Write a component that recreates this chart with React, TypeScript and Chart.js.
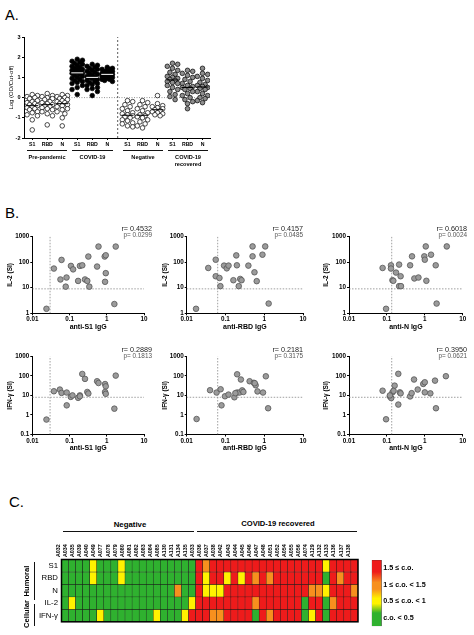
import React, { useEffect, useRef } from "react";
import { Chart, registerables } from "chart.js";

Chart.register(...registerables);

const FONT = "'Liberation Sans', Arial, Helvetica, sans-serif";
Chart.defaults.font.family = FONT;
Chart.defaults.color = "#000";

// ---------------- Panel A data ----------------
const aTickLabels = ["S1", "RBD", "N", "S1", "RBD", "N", "S1", "RBD", "N", "S1", "RBD", "N"];
const aYTicks = [-2, -1, 0, 1, 2, 3];
const aYTitle = "Log (OD/Cut-off)";

const prePandemicS1 = [0.15, 0.1, 0.05, 0, -0.05, -0.15, -0.2, -0.25, -0.3, -0.35, -0.4, -0.45, -0.5, -0.55, -0.6, -0.7, -0.75, -0.85, -0.9, -1.1, -1.6];
const prePandemicRBD = [0.2, 0.1, 0.05, 0, -0.05, -0.1, -0.2, -0.25, -0.3, -0.35, -0.4, -0.45, -0.5, -0.55, -0.6, -0.7, -0.8, -0.9, -1.35];
const prePandemicN = [0.15, 0.1, 0.05, 0, -0.05, -0.1, -0.15, -0.2, -0.25, -0.3, -0.35, -0.4, -0.45, -0.55, -0.6, -0.7, -0.8, -1.0, -1.4];
const covidS1 = [1.9, 1.85, 1.8, 1.75, 1.7, 1.65, 1.6, 1.55, 1.5, 1.45, 1.4, 1.4, 1.35, 1.3, 1.3, 1.25, 1.2, 1.2, 1.15, 1.1, 1.05, 1.0, 0.95, 0.9, 0.85, 0.8, 0.75, 0.7, 0.6, 0.5, 0.4, 0.15];
const covidRBD = [1.65, 1.6, 1.55, 1.5, 1.45, 1.4, 1.35, 1.3, 1.25, 1.2, 1.15, 1.1, 1.05, 1.0, 1.0, 0.95, 0.9, 0.85, 0.8, 0.75, 0.7, 0.65, 0.6, 0.5, 0.45, 0.4, 0.3, 0.1];
const covidN = [1.5, 1.45, 1.4, 1.4, 1.35, 1.3, 1.3, 1.25, 1.2, 1.2, 1.15, 1.15, 1.1, 1.1, 1.05, 1.0, 1.0, 0.95, 0.9, 0.9, 0.85, 0.8];
const negativeS1 = [-0.15, -0.2, -0.35, -0.45, -0.55, -0.65, -0.75, -0.8, -0.85, -0.9, -0.95, -1.0, -1.1, -1.15, -1.25, -1.3, -1.4, -1.45];
const negativeRBD = [-0.15, -0.25, -0.35, -0.45, -0.55, -0.65, -0.75, -0.85, -0.9, -0.95, -1.0, -1.1, -1.2, -1.3, -1.4, -1.5];
const negativeN = [0.1, -0.3, -0.4, -0.45, -0.5, -0.55, -0.6, -0.65, -0.7, -0.75, -0.8, -0.85, -0.9];
const recoveredS1 = [1.7, 1.65, 1.55, 1.45, 1.35, 1.25, 1.15, 1.05, 1.0, 0.95, 0.9, 0.85, 0.8, 0.75, 0.7, 0.6, 0.5, 0.4, 0.3, 0.15, 0.05, -0.1];
const recoveredRBD = [1.35, 1.3, 1.2, 1.1, 1.0, 0.9, 0.8, 0.7, 0.6, 0.55, 0.5, 0.45, 0.4, 0.3, 0.2, 0.1, 0, -0.1, -0.2, -0.3, -0.55];
const recoveredN = [1.45, 1.2, 1.15, 1.05, 0.95, 0.85, 0.75, 0.65, 0.6, 0.55, 0.5, 0.45, 0.4, 0.3, 0.2, 0.1, 0, -0.05, -0.15, -0.25];

// ---------------- Panel B data ----------------
const bXTicks = [0.01, 0.1, 1, 10];
const bXTickLabels = ["0.01", "0.1", "1", "10"];
const il2Ticks = [1, 10, 100, 1000];
const il2TickLabels = ["1", "10", "100", "1000"];
const ifnTicks = [0.1, 1, 10, 100, 1000];
const ifnTickLabels = ["0.1", "1", "10", "100", "1000"];
const bXTitles = ["anti-S1 IgG", "anti-RBD IgG", "anti-N IgG"];
const bYTitles = ["IL-2 (SI)", "IFN-γ (SI)"];
const bR = ["0.4532", "0.4157", "0.6018", "0.2889", "0.2181", "0.3950"];
const bP = ["0.0299", "0.0485", "0.0024", "0.1813", "0.3175", "0.0621"];
const antibodyCutoffs = [0.03, 0.063, 0.134];
const cytokineCutoffs = [9, 8];

const s1Il2X = [0.024, 0.038, 0.061, 0.057, 0.083, 0.079, 0.109, 0.125, 0.17, 0.19, 0.22, 0.26, 0.3, 0.32, 0.34, 0.55, 0.6, 0.88, 0.94, 0.94, 0.9, 1.74, 1.6];
const s1Il2Y = [1.5, 56, 122, 21, 25, 11, 71, 52, 18.4, 71, 75, 21, 18.4, 165, 11, 67, 405, 165, 185, 37, 17, 405, 2.3];
const rbdIl2X = [0.0174, 0.036, 0.056, 0.056, 0.07, 0.074, 0.092, 0.108, 0.12, 0.16, 0.19, 0.197, 0.22, 0.24, 0.26, 0.39, 0.5, 0.5, 0.56, 0.64, 0.9, 1.06, 1.3];
const rbdIl2Y = [1.5, 59, 124, 28, 24, 11.5, 73, 57, 73, 19.6, 183, 75, 11.5, 22, 19.6, 73, 168, 410, 40, 18, 195, 410, 2.4];
const nIl2X = [0.095, 0.077, 0.128, 0.128, 0.174, 0.14, 0.148, 0.21, 0.23, 0.21, 0.235, 0.41, 0.46, 0.53, 0.68, 0.97, 1.0, 1.06, 1.1, 1.46, 1.94, 2.05, 3.8];
const nIl2Y = [1.5, 59, 75, 56, 39, 19.6, 18.6, 80, 28, 11.5, 11.5, 75, 168, 23, 25, 168, 124, 410, 18.6, 195, 75, 2.4, 410];
const s1IfnX = [0.024, 0.038, 0.055, 0.061, 0.084, 0.084, 0.108, 0.12, 0.17, 0.19, 0.22, 0.26, 0.3, 0.32, 0.55, 0.6, 0.9, 0.94, 0.9, 0.94, 1.74, 1.6, 0.19];
const s1IfnY = [0.58, 16.3, 19.9, 13.4, 14, 3.1, 8.4, 10, 7.5, 10, 125, 70, 15, 12.5, 53, 43, 38, 29, 15, 12, 103, 2.1, 9];
const rbdIfnX = [0.018, 0.04, 0.059, 0.075, 0.079, 0.097, 0.12, 0.17, 0.2, 0.2, 0.23, 0.25, 0.27, 0.42, 0.54, 0.6, 0.67, 0.93, 1.1, 1.26, 0.57, 0.18, 0.29];
const rbdIfnY = [0.62, 18.4, 14, 20.6, 3.1, 9, 11, 8, 14, 120, 14, 65, 18, 53, 44, 33, 16, 14, 95, 2.2, 42, 13, 15];
const nIfnX = [0.095, 0.077, 0.12, 0.13, 0.14, 0.16, 0.2, 0.2, 0.22, 0.23, 0.41, 0.45, 0.52, 0.65, 0.91, 1.0, 1.0, 1.4, 1.86, 1.97, 3.6, 0.12, 0.15];
const nIfnY = [0.6, 17.4, 8.9, 7.3, 14.3, 31.6, 127, 3.4, 14.3, 12.7, 8.9, 13, 65, 20, 38.6, 47, 14.3, 12.7, 57, 2.2, 96, 10, 17];

// ---------------- Panel C data ----------------
const negativeIds = ["A032", "A034", "A035", "A039", "A040", "A049", "A077", "A078", "A079", "A080", "A081", "A082", "A083", "A084", "A085", "A130", "A131", "A134", "A135"];
const recoveredIds = ["A033", "A036", "A037", "A038", "A042", "A043", "A044", "A045", "A046", "A047", "A048", "A051", "A052", "A054", "A055", "A056", "A074", "A129", "A132", "A133", "A136", "A137", "A138"];
const hmRowLabels = ["S1", "RBD", "N", "IL-2", "IFN-γ"];
// level: 0 = c.o. < 0.5, 1 = 0.5 ≤ c.o. < 1, 2 = 1 ≤ c.o. < 1.5, 3 = 1.5 ≤ c.o.
const hmS1 = [0, 0, 0, 0, 1, 0, 0, 0, 1, 0, 0, 0, 0, 0, 0, 0, 0, 0, 0, 3, 2, 3, 3, 3, 3, 3, 3, 3, 3, 3, 3, 3, 3, 3, 3, 3, 3, 1, 3, 3, 3, 3];
const hmRBD = [0, 0, 0, 0, 1, 0, 0, 0, 1, 0, 0, 0, 0, 0, 0, 0, 0, 0, 0, 3, 1, 3, 3, 1, 3, 1, 3, 2, 3, 2, 3, 3, 3, 3, 3, 3, 3, 0, 3, 2, 3, 3];
const hmN = [0, 0, 0, 0, 0, 0, 0, 0, 0, 0, 0, 0, 0, 0, 0, 0, 2, 0, 0, 3, 1, 1, 1, 3, 3, 3, 3, 3, 3, 3, 3, 3, 3, 3, 3, 2, 2, 1, 3, 3, 3, 2];
const hmIL2 = [0, 1, 0, 0, 0, 0, 0, 0, 0, 0, 0, 0, 0, 0, 0, 0, 0, 0, 1, 3, 3, 3, 3, 3, 3, 3, 3, 2, 3, 3, 3, 3, 3, 3, 0, 3, 3, 0, 2, 3, 3, 3];
const hmIFN = [0, 0, 0, 0, 0, 1, 0, 0, 0, 0, 0, 0, 0, 1, 0, 0, 0, 1, 3, 3, 3, 2, 2, 3, 3, 3, 3, 0, 3, 2, 3, 3, 3, 3, 0, 1, 3, 0, 3, 3, 3, 3];
const legendLabels = ["1.5 ≤ c.o.", "1 ≤ c.o. < 1.5", "0.5 ≤ c.o. < 1", "c.o. < 0.5"];
const levelColors = ["#2fb12f", "#fff200", "#f7901e", "#ee1b1b"];

// ---------------- helpers ----------------
const noPlugins = { legend: { display: false }, tooltip: { enabled: false } };

function swarmOffsets(vals: number[], pxX: number, pxY: number, diam: number): number[] {
  const order = vals.map((_, i) => i).sort((a, b) => vals[b] - vals[a]);
  const placed: { x: number; y: number }[] = [];
  const out: number[] = new Array(vals.length).fill(0);
  const cands = [0, 2.6, -2.6, 5.2, -5.2];
  for (const i of order) {
    const y = vals[i] * pxY;
    let best = 0;
    let bestD = -1;
    for (const c of cands) {
      let minD = Infinity;
      for (const p of placed) minD = Math.min(minD, Math.hypot(p.x - c, p.y - y));
      if (minD >= diam) {
        best = c;
        break;
      }
      if (minD > bestD) {
        bestD = minD;
        best = c;
      }
    }
    placed.push({ x: best, y });
    out[i] = best / pxX;
  }
  return out;
}

function median(v: number[]) {
  const s = [...v].sort((a, b) => a - b);
  const m = Math.floor(s.length / 2);
  return s.length % 2 ? s[m] : (s[m - 1] + s[m]) / 2;
}

function ChartCanvas({ left, top, width, height, build }: { left: number; top: number; width: number; height: number; build: () => any }) {
  const ref = useRef<HTMLCanvasElement | null>(null);
  useEffect(() => {
    if (!ref.current) return;
    const chart = new Chart(ref.current, build());
    return () => chart.destroy();
  }, []);
  return <canvas ref={ref} width={width} height={height} style={{ position: "absolute", left, top, width, height }} />;
}

function Label({ x, y, text, size, bold, align = "center", color = "#000", rotate }: { x: number; y: number; text: string; size: number; bold?: boolean; align?: string; color?: string; rotate?: number }) {
  const tx = align === "center" ? "-50%" : align === "right" ? "-100%" : "0";
  return (
    <div
      style={{
        position: "absolute",
        left: x,
        top: y,
        transform: `translate(${tx},-50%)${rotate ? ` rotate(${rotate}deg)` : ""}`,
        fontFamily: FONT,
        fontSize: size,
        fontWeight: bold ? "bold" : "normal",
        color,
        lineHeight: 1,
        whiteSpace: "nowrap",
      }}
    >
      {text}
    </div>
  );
}

function Rule({ x, y, w, h }: { x: number; y: number; w: number; h: number }) {
  return <div style={{ position: "absolute", left: x, top: y, width: w, height: h, background: "#111" }} />;
}

// ---------------- Panel A chart ----------------
const A = { left: 0, top: 28, width: 216, height: 127, areaL: 24, areaR: 210, areaT: 37, areaB: 138, xMin: -0.55, xMax: 11.85 };
const aSlot = (i: number) => (i < 6 ? i : i + 0.35);

function buildA() {
  const cols = [prePandemicS1, prePandemicRBD, prePandemicN, covidS1, covidRBD, covidN, negativeS1, negativeRBD, negativeN, recoveredS1, recoveredRBD, recoveredN];
  const pxX = (A.areaR - A.areaL) / (A.xMax - A.xMin);
  const pxY = (A.areaB - A.areaT) / 5;
  const fills = ["#ffffff", "#000000", "#ffffff", "#8e8e8e"];
  const datasets: any[] = [];
  cols.forEach((vals, i) => {
    const g = Math.floor(i / 3);
    const offs = swarmOffsets(vals, pxX, pxY, 4.8);
    datasets.push({
      data: vals.map((v, j) => ({ x: aSlot(i) + offs[j], y: v })),
      pointRadius: 2.3,
      pointBorderWidth: 0.7,
      pointBackgroundColor: fills[g],
      pointBorderColor: "#000",
      order: 1,
    });
    const m = median(vals);
    datasets.push({
      data: [{ x: aSlot(i) - 0.4, y: m }, { x: aSlot(i) + 0.4, y: m }],
      showLine: true,
      pointRadius: 0,
      borderColor: g === 1 ? "#ffffff" : "#000000",
      borderWidth: 1,
      order: 0,
    });
  });
  datasets.push({
    data: [{ x: 5.7, y: -2 }, { x: 5.7, y: 3 }],
    showLine: true, pointRadius: 0, borderColor: "#333", borderWidth: 0.8, borderDash: [2, 2], order: 5,
  });
  datasets.push({
    data: [{ x: A.xMin, y: 0 }, { x: A.xMax, y: 0 }],
    showLine: true, pointRadius: 0, borderColor: "#777", borderWidth: 0.8, borderDash: [1, 1.5], order: 5,
  });
  return {
    type: "scatter",
    data: { datasets },
    options: {
      animation: false,
      responsive: false,
      events: [],
      layout: { padding: { top: A.areaT - A.top, right: A.left + A.width - A.areaR, left: 0, bottom: 0 } },
      plugins: noPlugins,
      scales: {
        x: {
          type: "linear",
          min: A.xMin,
          max: A.xMax,
          afterBuildTicks: (s: any) => { s.ticks = cols.map((_, i) => ({ value: aSlot(i) })); },
          afterFit: (s: any) => { s.height = A.top + A.height - A.areaB; },
          ticks: { autoSkip: false, maxRotation: 0, padding: 1.5, font: { size: 5.2, weight: "bold" }, color: "#000", callback: (_v: any, i: number) => aTickLabels[i] },
          grid: { drawOnChartArea: false, tickLength: 2, color: "#000" },
          border: { color: "#000", width: 1 },
        },
        y: {
          type: "linear",
          min: -2,
          max: 3,
          afterBuildTicks: (s: any) => { s.ticks = aYTicks.map((v) => ({ value: v })); },
          afterFit: (s: any) => { s.width = A.areaL - A.left; },
          ticks: { padding: 1.5, font: { size: 5.5, weight: "bold" }, color: "#000", callback: (v: any) => String(v) },
          grid: { drawOnChartArea: false, tickLength: 2, color: "#000" },
          border: { color: "#000", width: 1 },
          title: { display: true, text: aYTitle, font: { size: 6 }, color: "#000", padding: { top: 11.5 - A.left - 3.6, bottom: 0 } },
        },
      },
    },
  };
}

// ---------------- Panel B charts ----------------
const bCols = [
  { left: 0, width: 160, areaL: 32.3, areaR: 144, yTitleX: 10, rpRight: 152 },
  { left: 155, width: 160, areaL: 186.7, areaR: 303, yTitleX: 165, rpRight: 303 },
  { left: 317, width: 157, areaL: 349, areaR: 462.7, yTitleX: 326.7, rpRight: 467 },
];
const bRows = [
  { top: 218, height: 115, areaT: 236.5, areaB: 313.3, rY: 228.5, pY: 234.5 },
  { top: 338, height: 116, areaT: 356.3, areaB: 434.5, rY: 349.5, pY: 355.5 },
];
const bPairs = [
  [s1Il2X, s1Il2Y], [rbdIl2X, rbdIl2Y], [nIl2X, nIl2Y],
  [s1IfnX, s1IfnY], [rbdIfnX, rbdIfnY], [nIfnX, nIfnY],
];

function buildB(row: number, col: number) {
  const c = bCols[col];
  const r = bRows[row];
  const [xs, ys] = bPairs[row * 3 + col];
  const yTicks = row === 0 ? il2Ticks : ifnTicks;
  const yLabels = row === 0 ? il2TickLabels : ifnTickLabels;
  const yMin = yTicks[0];
  const xCut = antibodyCutoffs[col];
  const yCut = cytokineCutoffs[row];
  const axisH = r.top + r.height - r.areaB;
  const titleLH = 7 * 1.2;
  return {
    type: "scatter",
    data: {
      datasets: [
        {
          data: xs.map((x, i) => ({ x, y: ys[i] })),
          pointRadius: 2.8, pointBorderWidth: 0.8, pointBackgroundColor: "#9b9b9b", pointBorderColor: "#555", order: 0,
        },
        {
          data: [{ x: xCut, y: yMin }, { x: xCut, y: 1000 }],
          showLine: true, pointRadius: 0, borderColor: "#888", borderWidth: 0.8, borderDash: [1.5, 1.5], order: 5,
        },
        {
          data: [{ x: 0.01, y: yCut }, { x: 10, y: yCut }],
          showLine: true, pointRadius: 0, borderColor: "#888", borderWidth: 0.8, borderDash: [1.5, 1.5], order: 5,
        },
      ],
    },
    options: {
      animation: false,
      responsive: false,
      events: [],
      layout: { padding: { top: r.areaT - r.top, right: c.left + c.width - c.areaR, left: 0, bottom: 0 } },
      plugins: noPlugins,
      scales: {
        x: {
          type: "logarithmic",
          min: 0.01,
          max: 10,
          afterBuildTicks: (s: any) => { s.ticks = bXTicks.map((v) => ({ value: v })); },
          afterFit: (s: any) => { s.height = axisH; },
          ticks: { autoSkip: false, maxRotation: 0, padding: 0.5, font: { size: 6.3, weight: "bold" }, color: "#000", callback: (_v: any, i: number) => bXTickLabels[i] },
          grid: { drawOnChartArea: false, tickLength: 2, color: "#000" },
          border: { color: "#000", width: 1 },
          title: { display: true, text: bXTitles[col], font: { size: 7, weight: "bold" }, color: "#000", padding: { top: 0, bottom: Math.max(0, axisH - 14 - titleLH / 2) } },
        },
        y: {
          type: "logarithmic",
          min: yMin,
          max: 1000,
          afterBuildTicks: (s: any) => { s.ticks = yTicks.map((v) => ({ value: v })); },
          afterFit: (s: any) => { s.width = c.areaL - c.left; },
          ticks: { padding: 1, font: { size: 6.3, weight: "bold" }, color: "#000", callback: (_v: any, i: number) => yLabels[i] },
          grid: { drawOnChartArea: false, tickLength: 2, color: "#000" },
          border: { color: "#000", width: 1 },
          title: { display: true, text: bYTitles[row], font: { size: 6.5, weight: "bold" }, color: "#000", padding: { top: Math.max(0, c.yTitleX - c.left - 3.9), bottom: 0 } },
        },
      },
    },
  };
}

// ---------------- Panel C charts ----------------
const HM = { left: 0, top: 528, width: 362, height: 102, areaL: 61.5, areaR: 358, areaT: 559.5, areaB: 628 };
const LG = { left: 368, top: 554, width: 106, height: 78, areaL: 371.7, areaR: 381.7, areaT: 560, areaB: 627 };

const framePlugin = {
  id: "frame",
  afterDatasetsDraw(chart: any) {
    const { ctx, chartArea: a } = chart;
    ctx.save();
    ctx.strokeStyle = "#000";
    ctx.lineWidth = 1.5;
    ctx.strokeRect(a.left, a.top, a.right - a.left, a.bottom - a.top);
    ctx.restore();
  },
};

function buildHeatmap() {
  const rows = [hmS1, hmRBD, hmN, hmIL2, hmIFN];
  const labels = [...negativeIds, ...recoveredIds];
  return {
    type: "bar",
    data: {
      labels,
      datasets: rows.map((row, r) => ({
        data: row.map(() => [r, r + 1]),
        backgroundColor: row.map((l) => levelColors[l]),
        borderColor: "#1b1b1b",
        borderWidth: 0.5,
        borderSkipped: false,
        barPercentage: 1,
        categoryPercentage: 1,
        grouped: false,
      })),
    },
    plugins: [framePlugin],
    options: {
      animation: false,
      responsive: false,
      events: [],
      layout: { padding: { top: 0, right: HM.left + HM.width - HM.areaR, left: 0, bottom: HM.top + HM.height - HM.areaB } },
      plugins: noPlugins,
      scales: {
        x: {
          type: "category",
          position: "top",
          afterFit: (s: any) => { s.height = HM.areaT - HM.top; },
          ticks: { autoSkip: false, minRotation: 90, maxRotation: 90, padding: 2.5, font: { size: 5.3, weight: "bold" }, color: "#000" },
          grid: { display: false, drawTicks: false, tickLength: 0 },
          border: { display: false },
        },
        y: {
          type: "linear",
          min: 0,
          max: 5,
          reverse: true,
          afterBuildTicks: (s: any) => { s.ticks = hmRowLabels.map((_, i) => ({ value: i + 0.5 })); },
          afterFit: (s: any) => { s.width = HM.areaL - HM.left; },
          ticks: { padding: 3.5, font: { size: 7.8 }, color: "#000", callback: (_v: any, i: number) => hmRowLabels[i] },
          grid: { display: false, drawTicks: false, tickLength: 0 },
          border: { display: false },
        },
      },
    },
  };
}

function buildLegend() {
  return {
    type: "bar",
    data: {
      labels: [""],
      datasets: [
        {
          data: [[0, legendLabels.length]],
          backgroundColor: (ctx: any) => {
            const chart = ctx.chart;
            const a = chart.chartArea;
            if (!a) return levelColors[3];
            const g = chart.ctx.createLinearGradient(0, a.top, 0, a.bottom);
            g.addColorStop(0, levelColors[3]);
            g.addColorStop(0.18, levelColors[3]);
            g.addColorStop(0.34, levelColors[2]);
            g.addColorStop(0.44, levelColors[2]);
            g.addColorStop(0.58, levelColors[1]);
            g.addColorStop(0.66, levelColors[1]);
            g.addColorStop(0.8, levelColors[0]);
            g.addColorStop(1, levelColors[0]);
            return g;
          },
          borderColor: "#333",
          borderWidth: 0.6,
          borderSkipped: false,
          barPercentage: 1,
          categoryPercentage: 1,
        },
      ],
    },
    options: {
      animation: false,
      responsive: false,
      events: [],
      layout: { padding: { top: LG.areaT - LG.top, left: LG.areaL - LG.left, right: 0, bottom: LG.top + LG.height - LG.areaB } },
      plugins: noPlugins,
      scales: {
        x: { display: false },
        y: {
          position: "right",
          min: 0,
          max: legendLabels.length,
          reverse: true,
          afterBuildTicks: (s: any) => { s.ticks = legendLabels.map((_, i) => ({ value: i + 0.5 })); },
          afterFit: (s: any) => { s.width = LG.left + LG.width - LG.areaR; },
          ticks: { padding: 1.5, font: { size: 7.2, weight: "bold" }, color: "#000", callback: (_v: any, i: number) => legendLabels[i] },
          grid: { display: false, drawTicks: false, tickLength: 0 },
          border: { display: false },
        },
      },
    },
  };
}

export default function App() {
  return (
    <div style={{ position: "absolute", left: 0, top: 0, width: 474, height: 635, background: "#fff", overflow: "hidden" }}>
      {/* Panel A */}
      <Label x={5} y={15} text="A." size={14.5} align="left" />
      <ChartCanvas left={A.left} top={A.top} width={A.width} height={A.height} build={buildA} />
      <Rule x={27} y={150.2} w={40} h={0.9} />
      <Rule x={72} y={150.2} w={41} h={0.9} />
      <Rule x={123} y={150.2} w={40} h={0.9} />
      <Rule x={168} y={150.2} w={40} h={0.9} />
      <Label x={47} y={157.5} text="Pre-pandemic" size={5.6} bold />
      <Label x={92.5} y={157.5} text="COVID-19" size={5.6} bold />
      <Label x={143} y={157.5} text="Negative" size={5.6} bold />
      <Label x={188} y={157.5} text="COVID-19" size={5.6} bold />
      <Label x={188} y={164.5} text="recovered" size={5.6} bold />

      {/* Panel B */}
      <Label x={5} y={212} text="B." size={15} align="left" />
      {bRows.map((r, ri) =>
        bCols.map((c, ci) => (
          <ChartCanvas key={`b${ri}${ci}`} left={c.left} top={r.top} width={c.width} height={r.height} build={() => buildB(ri, ci)} />
        ))
      )}
      {bRows.map((r, ri) =>
        bCols.map((c, ci) => (
          <React.Fragment key={`t${ri}${ci}`}>
            <Label x={c.rpRight} y={r.rY} text={`r= ${bR[ri * 3 + ci]}`} size={7.2} align="right" color="#222" />
            <Label x={c.rpRight} y={r.pY} text={`p= ${bP[ri * 3 + ci]}`} size={6.4} align="right" color="#555" />
          </React.Fragment>
        ))
      )}

      {/* Panel C */}
      <Label x={9} y={500.5} text="C." size={15} align="left" />
      <Label x={130} y={525} text="Negative" size={7.8} bold />
      <Label x={278} y={523.5} text="COVID-19 recovered" size={7.6} bold />
      <Rule x={63} y={530.8} w={131} h={0.8} />
      <Rule x={197} y={530.8} w={160} h={0.8} />
      <ChartCanvas left={HM.left} top={HM.top} width={HM.width} height={HM.height} build={buildHeatmap} />
      <ChartCanvas left={LG.left} top={LG.top} width={LG.width} height={LG.height} build={buildLegend} />
      <Rule x={33.5} y={562} w={0.9} h={38} />
      <Rule x={33.5} y={603.5} w={0.9} h={22} />
      <Label x={27} y={581} text="Humoral" size={7.6} bold rotate={-90} />
      <Label x={27} y={614} text="Cellular" size={7.6} bold rotate={-90} />
    </div>
  );
}
